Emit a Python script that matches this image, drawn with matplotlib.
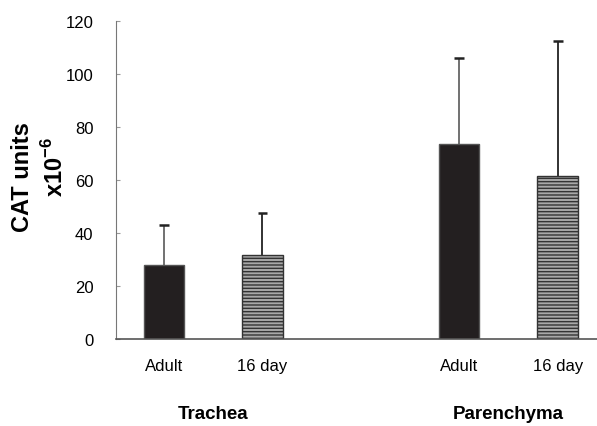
import numpy as np
import matplotlib.pyplot as plt

plt.rcParams['font.family'] = ['Liberation Sans', 'DejaVu Sans']
plt.rcParams['mathtext.fontset'] = 'custom'
plt.rcParams['mathtext.rm'] = 'Liberation Sans:bold'
plt.rcParams['mathtext.bf'] = 'Liberation Sans:bold'
plt.rcParams['hatch.color'] = '#1a1a1a'

# data
tick_labels = ['Adult', '16 day', '', 'Adult', '16 day']
values = [28, 31.5, 0, 73.5, 61.5]
errors = [15, 16, 0, 32.5, 51]
groups = ['Trachea', 'Parenchyma']
group_pos = [0.5, 3.5]

fig = plt.figure(figsize=(5.97, 4.27), dpi=100)
ax = fig.add_axes([0.194, 0.204, 0.806, 0.744])

x = np.arange(len(values))
adult = [0, 3]
young = [1, 4]
vals = np.array(values)
errs = np.array(errors)

# error bars (upper only), drawn first so bars sit on top
for idx, col in [(adult, '#666666'), (young, '#222222')]:
    ax.vlines(x[idx], vals[idx], vals[idx] + errs[idx], color=col, lw=1.3, zorder=1)
    ax.hlines(vals[idx] + errs[idx], x[idx] - 0.05, x[idx] + 0.05, color='#222222',
              lw=1.8, zorder=1)

ax.bar(x[adult], vals[adult], width=0.41, color='#231f20',
       edgecolor='#555555', linewidth=1, zorder=2)
ax.bar(x[young], vals[young], width=0.41, color='#a8a8a8',
       edgecolor='#333333', linewidth=1, hatch='-----', zorder=2)

ax.set_xlim(-0.49, 4.4)
ax.set_ylim(0, 120)
ax.set_yticks(np.arange(0, 121, 20))
ax.set_xticks(x)
ax.set_xticklabels(tick_labels, fontsize=12)
ax.tick_params(axis='x', length=0, pad=14)
ax.tick_params(axis='y', length=3, direction='in', labelsize=12, pad=16,
               color='#999999')

for s in ['top', 'right']:
    ax.spines[s].set_visible(False)
ax.spines['left'].set_color('#777777')
ax.spines['bottom'].set_color('#555555')
ax.spines['bottom'].set_linewidth(1.2)

for g, p in zip(groups, group_pos):
    ax.text(p, -28, g, ha='center', va='center', fontsize=13.5,
            fontweight='bold')

fig.text(0.037, 0.585, 'CAT units', rotation=90, ha='center', va='center',
         fontsize=17, fontweight='bold')
fig.text(0.092, 0.61, r'x10$^{\mathrm{-6}}$', rotation=90, ha='center',
         va='center', fontsize=17, fontweight='bold')

fig.savefig('out.png', dpi=100)
